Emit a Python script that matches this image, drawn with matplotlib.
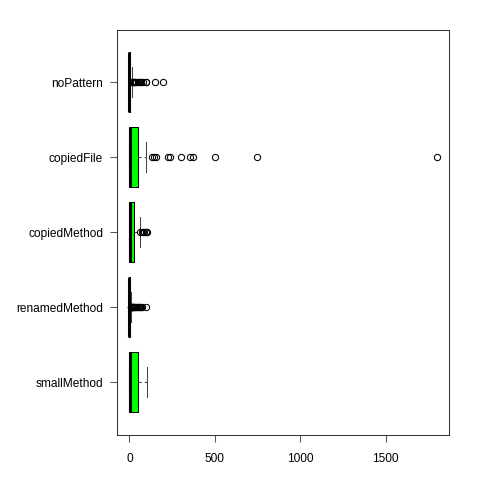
import matplotlib
matplotlib.use('Agg')
import matplotlib.pyplot as plt

plt.rcParams['font.family'] = ['Liberation Sans', 'DejaVu Sans']

# categories, bottom to top
labels = ['smallMethod', 'renamedMethod', 'copiedMethod', 'copiedFile', 'noPattern']

# box statistics
q1 = [0, 0, 0, 0, 0]
med = [2, 1, 2, 2, 1]
q3 = [52, 3, 28, 52, 3]
whislo = [0, 0, 0, 0, 0]
whishi = [105, 7, 60, 100, 18]
fill = ['#00FF00', '#00FF00', '#00FF00', '#00FF00', '#00FF00']

fliers = [
    [],
    [8, 10, 12, 14, 16, 18, 20, 23, 26, 30, 34, 38, 43, 48, 54, 60, 68, 75, 100],
    [65, 72, 80, 88, 95, 100, 105],
    [130, 145, 155, 225, 240, 300, 355, 375, 500, 750, 1800],
    [15, 18, 21, 24, 28, 32, 36, 42, 48, 55, 62, 70, 80, 100, 100, 150, 200],
]

x_ticks = [0, 500, 1000, 1500]

stats = []
for i, lab in enumerate(labels):
    stats.append({'label': lab, 'q1': q1[i], 'med': med[i], 'q3': q3[i],
                  'whislo': whislo[i], 'whishi': whishi[i], 'fliers': fliers[i]})

fig = plt.figure(figsize=(4.8, 4.8), dpi=100)
ax = fig.add_axes([0.2438, 0.0938, 0.6917, 0.8437])

bp = ax.bxp(stats, positions=range(1, len(labels) + 1), widths=0.8,
            orientation='horizontal', patch_artist=True,
            boxprops=dict(edgecolor='black', linewidth=0.75),
            medianprops=dict(color='black', linewidth=2.2),
            whiskerprops=dict(color='#444444', linewidth=0.75, linestyle=(0, (3, 3))),
            capprops=dict(color='#444444', linewidth=0.75),
            capwidths=0.4,
            flierprops=dict(marker='o', markerfacecolor='none', markeredgecolor='black',
                            markersize=4.5, markeredgewidth=0.75, linestyle='none'))
for patch, c in zip(bp['boxes'], fill):
    patch.set_facecolor(c)

ax.set_xlim(-72, 1872)
ax.set_ylim(0.3, 5.7)
ax.set_xticks(x_ticks)
ax.set_xticklabels([str(t) for t in x_ticks])
ax.set_yticks(range(1, len(labels) + 1))
ax.set_yticklabels(labels)
ax.tick_params(axis='both', length=5, width=0.75, color='#555555', labelsize=8.6, pad=5)
ax.tick_params(axis='x', pad=8)
for s in ax.spines.values():
    s.set_linewidth(0.75)
    s.set_color('#333333')

fig.savefig('out.png', dpi=100)
